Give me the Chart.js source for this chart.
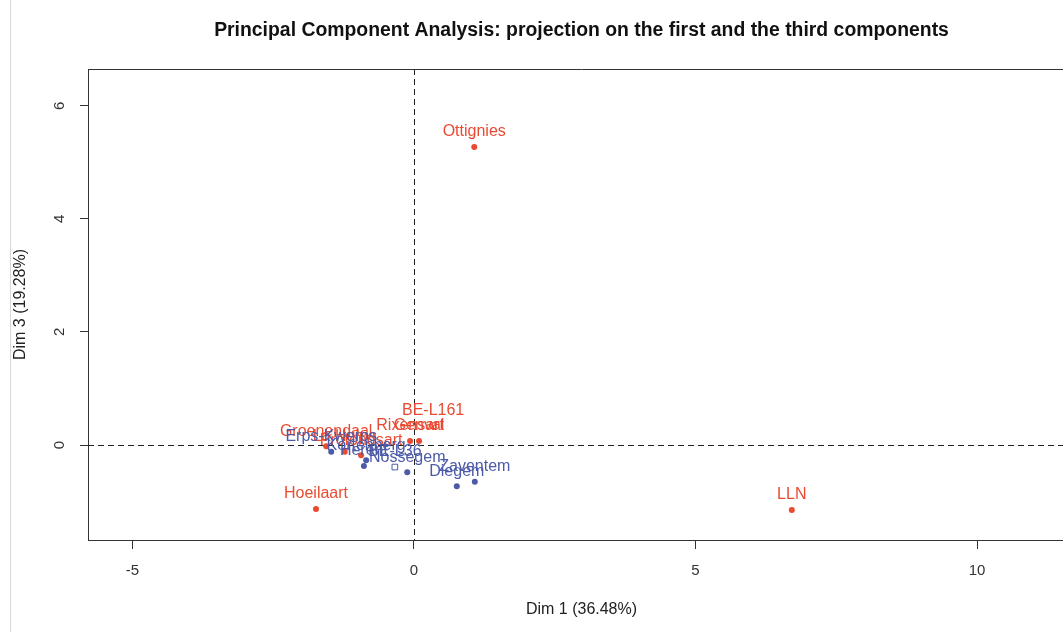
<!DOCTYPE html>
<html>
<head>
<meta charset="utf-8">
<script src="https://cdn.jsdelivr.net/npm/chart.js@4"></script>
<style>
  html, body { margin: 0; padding: 0; background: #fff; overflow: hidden; }
  #wrap { position: relative; width: 1063px; height: 632px; overflow: hidden; }
  #edge { position: absolute; left: 10px; top: 0; width: 1px; height: 632px; background: #d8d8d8; }
  canvas { position: absolute; left: 0; top: 0; }
</style>
</head>
<body>
<div id="wrap">
  <canvas id="pca" width="1162" height="632"></canvas>
  <div id="edge"></div>
</div>
<script>
// individuals, line 161 (red)
const redNames = ["Ottignies", "LLN", "Hoeilaart", "Rixensart", "Genval", "Groenendaal", "La Hulpe", "Profondsart"];
const redX = [1.07, 6.71, -1.74, -0.07, 0.09, -1.56, -1.23, -0.94];
const redY = [5.27, -1.15, -1.13, 0.07, 0.07, -0.02, -0.12, -0.18];

// individuals, line 36 (blue)
const blueNames = ["Erps-Kwerps", "Kortenberg", "Herent", "Nossegem", "Diegem", "Zaventem"];
const blueX = [-1.47, -0.85, -0.89, -0.12, 0.76, 1.08];
const blueY = [-0.12, -0.27, -0.37, -0.48, -0.73, -0.65];

// supplementary categories (squares)
const catNames = ["BE-L161", "BE-L36"];
const catX = [0.34, -0.34];
const catY = [0.34, -0.39];

// axis ticks
const xTicks = [-5, 0, 5, 10];
const yTicks = [0, 2, 4, 6];

const TITLE = "Principal Component Analysis: projection on the first and the third components";
const RED = "#ea4a31";
const BLUE = "#4c5aa8";
const FONT = "'Liberation Sans', Arial, sans-serif";

function pts(xs, ys) {
  return xs.map((x, i) => ({ x: x, y: ys[i] }));
}

const frameAndTitle = {
  id: "frameAndTitle",
  beforeDatasetsDraw(chart) {
    const { ctx, chartArea: a, scales } = chart;
    const x0 = Math.round(scales.x.getPixelForValue(0)) + 0.5;
    const y0 = Math.round(scales.y.getPixelForValue(0)) + 0.5;
    ctx.save();
    // dashed zero lines
    ctx.strokeStyle = "#222";
    ctx.lineWidth = 1;
    ctx.setLineDash([6, 4]);
    ctx.beginPath();
    ctx.moveTo(x0, a.top); ctx.lineTo(x0, a.bottom);
    ctx.moveTo(a.left, y0); ctx.lineTo(a.right, y0);
    ctx.stroke();
    ctx.setLineDash([]);
    // top and right of the box
    ctx.strokeStyle = "#333";
    ctx.beginPath();
    ctx.moveTo(a.left, a.top + 0.5); ctx.lineTo(a.right, a.top + 0.5);
    ctx.lineTo(a.right, a.bottom);
    ctx.stroke();
    // rotated y tick labels
    ctx.fillStyle = "#333";
    ctx.font = "15px " + FONT;
    ctx.textAlign = "center";
    ctx.textBaseline = "middle";
    yTicks.forEach(v => {
      const py = scales.y.getPixelForValue(v);
      ctx.save();
      ctx.translate(60, py);
      ctx.rotate(-Math.PI / 2);
      ctx.fillText(String(v), 0, 0);
      ctx.restore();
    });
    // title, centred over the plot region
    ctx.fillStyle = "#111";
    ctx.font = "bold 19.4px " + FONT;
    ctx.fillText(TITLE, (a.left + a.right) / 2, 31);
    ctx.restore();
  }
};

const pointLabels = {
  id: "pointLabels",
  afterDatasetsDraw(chart) {
    const ctx = chart.ctx;
    ctx.save();
    ctx.font = "16px " + FONT;
    ctx.textAlign = "center";
    ctx.textBaseline = "middle";
    chart.data.datasets.forEach((ds, i) => {
      const meta = chart.getDatasetMeta(i);
      meta.data.forEach((el, j) => {
        ctx.fillStyle = Array.isArray(ds.labelColor) ? ds.labelColor[j] : ds.labelColor;
        ctx.fillText(ds.names[j], el.x, el.y - 15);
      });
    });
    ctx.restore();
  }
};

new Chart(document.getElementById("pca").getContext("2d"), {
  type: "scatter",
  data: {
    datasets: [
      {
        names: redNames, labelColor: RED,
        data: pts(redX, redY),
        pointRadius: 3, pointBackgroundColor: RED, pointBorderColor: RED, pointBorderWidth: 0
      },
      {
        names: blueNames, labelColor: BLUE,
        data: pts(blueX, blueY),
        pointRadius: 3, pointBackgroundColor: BLUE, pointBorderColor: BLUE, pointBorderWidth: 0
      },
      {
        names: catNames, labelColor: [RED, BLUE],
        data: pts(catX, catY),
        pointStyle: "rect", pointRadius: 4,
        pointBackgroundColor: "rgba(0,0,0,0)",
        pointBorderColor: [RED, BLUE], pointBorderWidth: 1
      }
    ]
  },
  options: {
    responsive: false,
    animation: false,
    layout: { padding: { top: 69, left: 0, right: 87, bottom: 0 } },
    plugins: {
      legend: { display: false },
      tooltip: { enabled: false },
      title: { display: false }
    },
    scales: {
      x: {
        type: "linear",
        min: -5.79, max: 11.74,
        afterBuildTicks: s => { s.ticks = xTicks.map(v => ({ value: v })); },
        afterFit: s => { s.height = 92; },
        grid: { drawOnChartArea: false, drawTicks: true, tickLength: 9, tickColor: "#333" },
        border: { display: true, color: "#333" },
        ticks: { color: "#333", padding: 13, font: { family: FONT, size: 15 } },
        title: {
          display: true, text: "Dim 1 (36.48%)", color: "#222",
          font: { family: FONT, size: 16 }, padding: { top: 0, bottom: 13 }
        }
      },
      y: {
        type: "linear",
        min: -1.68, max: 6.65,
        afterBuildTicks: s => { s.ticks = yTicks.map(v => ({ value: v })); },
        afterFit: s => { s.width = 88; },
        grid: { drawOnChartArea: false, drawTicks: true, tickLength: 8, tickColor: "#333" },
        border: { display: true, color: "#333" },
        ticks: { display: false },
        title: {
          display: true, text: "Dim 3 (19.28%)", color: "#222",
          font: { family: FONT, size: 16 }, padding: { top: 11, bottom: 0 }
        }
      }
    }
  },
  plugins: [frameAndTitle, pointLabels]
});
</script>
</body>
</html>
